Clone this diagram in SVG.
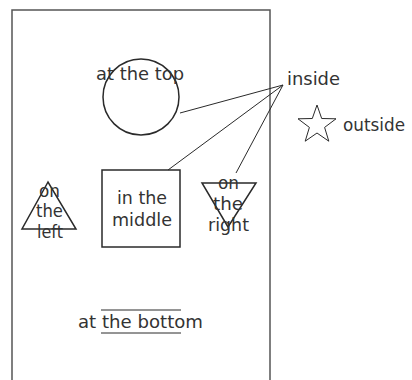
<svg xmlns="http://www.w3.org/2000/svg" width="412" height="380" viewBox="0 0 412 380">
<style>
text{font-family:"DejaVu Sans","Liberation Sans",Arial,sans-serif;font-size:18px;fill:#333}
.s{fill:none;stroke:#2a2a2a;stroke-width:1.5}
.f{fill:none;stroke:#555;stroke-width:1.5}
.c{stroke:#2a2a2a;stroke-width:1}
</style>
<rect width="412" height="380" fill="#fff"/>
<path id="frame" class="f" d="M12,382 V10 H270 V382"/>
<g id="connectors">
<line class="c" x1="283" y1="85" x2="180" y2="113"/>
<line class="c" x1="283" y1="85" x2="168" y2="170"/>
<line class="c" x1="283" y1="85" x2="236" y2="173"/>
</g>
<g id="top">
<circle class="s" cx="141" cy="97" r="38"/>
<text x="96" y="80" textLength="88" lengthAdjust="spacingAndGlyphs">at the top</text>
</g>
<g id="middle">
<rect class="s" x="102" y="170" width="78" height="77"/>
<text x="117" y="204" textLength="50" lengthAdjust="spacingAndGlyphs">in the</text>
<text x="112" y="226" textLength="60" lengthAdjust="spacingAndGlyphs">middle</text>
</g>
<g id="left">
<path class="s" d="M48,182 L22,229 H76 Z"/>
<text x="39" y="197" textLength="21" lengthAdjust="spacingAndGlyphs">on</text>
<text x="36" y="217" textLength="27" lengthAdjust="spacingAndGlyphs">the</text>
<text x="37" y="238" textLength="26" lengthAdjust="spacingAndGlyphs">left</text>
</g>
<g id="right">
<path class="s" d="M202,183 H256 L228,227 Z"/>
<text x="218" y="189" textLength="21" lengthAdjust="spacingAndGlyphs">on</text>
<text x="213" y="210" textLength="30" lengthAdjust="spacingAndGlyphs">the</text>
<text x="208" y="231" textLength="41" lengthAdjust="spacingAndGlyphs">right</text>
</g>
<g id="bottom">
<text x="78" y="328" textLength="125" lengthAdjust="spacingAndGlyphs">at the bottom</text>
<line class="c" x1="101" y1="310" x2="181" y2="310" stroke-width="1.5"/>
<line class="c" x1="101" y1="333" x2="181" y2="333" stroke-width="1.5"/>
</g>
<g id="inside">
<text x="287" y="85" textLength="53" lengthAdjust="spacingAndGlyphs">inside</text>
</g>
<g id="outside">
<path class="c" fill="none" d="M317,105 L321.7,118.5 L336,118.8 L324.6,127.4 L328.8,141.2 L317,133 L305.2,141.2 L309.4,127.4 L298,118.8 L312.3,118.5 Z"/>
<text x="343" y="131" textLength="62" lengthAdjust="spacingAndGlyphs">outside</text>
</g>
</svg>
